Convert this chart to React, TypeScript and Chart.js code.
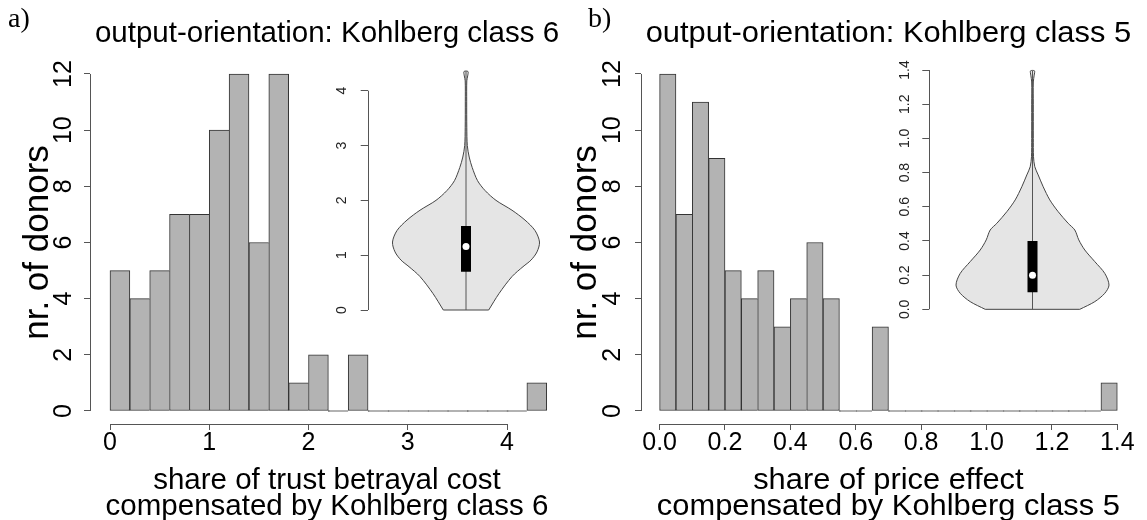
import React, { useEffect, useRef } from "react";
import { Chart, registerables } from "chart.js";

Chart.register(...registerables);

// ---------- data: panel a ----------
const binCentersA = [0.1, 0.3, 0.5, 0.7, 0.9, 1.1, 1.3, 1.5, 1.7, 1.9, 2.1, 2.3, 2.5, 2.7, 2.9, 3.1, 3.3, 3.5, 3.7, 3.9, 4.1, 4.3];
const countsA = [5, 4, 5, 7, 7, 10, 12, 6, 12, 1, 2, 0, 2, 0, 0, 0, 0, 0, 0, 0, 0, 1];
const xTicksA = [0, 1, 2, 3, 4];

// ---------- data: panel b ----------
const binCentersB = [0.025, 0.075, 0.125, 0.175, 0.225, 0.275, 0.325, 0.375, 0.425, 0.475, 0.525, 0.575, 0.625, 0.675, 0.725, 0.775, 0.825, 0.875, 0.925, 0.975, 1.025, 1.075, 1.125, 1.175, 1.225, 1.275, 1.325, 1.375];
const countsB = [12, 7, 11, 9, 5, 4, 5, 3, 4, 6, 4, 0, 0, 3, 0, 0, 0, 0, 0, 0, 0, 0, 0, 0, 0, 0, 0, 1];
const xTicksB = [0, 0.2, 0.4, 0.6, 0.8, 1.0, 1.2, 1.4];

const yTicksHist = [0, 2, 4, 6, 8, 10, 12];

// ---------- violin a (outline: value, half width) ----------
const violinValuesA = [0, 0.3, 0.61, 0.79, 0.91, 1.06, 1.24, 1.45, 1.64, 1.82, 2.0, 2.18, 2.36, 2.6, 2.79, 3.0, 3.33, 3.8, 4.18, 4.27, 4.35];
const violinWidthsA = [22.7, 33, 46, 57, 65, 71, 73.5, 69, 59, 46, 30, 19, 11.5, 6.2, 3.2, 1.3, 0.8, 0.7, 0.8, 1.7, 2.0];
const violinBoxA = [0.7, 1.53];
const violinMedianA = [1.16];
const violinRangeA = [0, 4.35];
const violinTicksA = [0, 1, 2, 3, 4];

// ---------- violin b ----------
const violinValuesB = [0, 0.045, 0.094, 0.142, 0.21, 0.279, 0.347, 0.406, 0.464, 0.503, 0.571, 0.64, 0.717, 0.786, 0.834, 0.893, 1.0, 1.2, 1.33, 1.37, 1.395];
const violinWidthsB = [47.3, 62.3, 72.3, 76.5, 72.3, 62.3, 52.3, 46.3, 42.3, 35.7, 25.7, 17.3, 10.7, 5.7, 2.3, 1.0, 0.8, 0.8, 0.8, 1.7, 2.0];
const violinBoxB = [0.1, 0.4];
const violinMedianB = [0.2];
const violinRangeB = [0, 1.395];
const violinTicksB = [0, 0.2, 0.4, 0.6, 0.8, 1.0, 1.2, 1.4];

// ---------- styles ----------
const SANS = '"Liberation Sans", Arial, Helvetica, sans-serif';
const SERIF = '"Liberation Serif", "Times New Roman", serif';
const AXIS = "#555";

const rTextPlugin = {
  id: "rtext",
  afterDraw(chart: any, _args: any, opts: any) {
    const ctx = chart.ctx;
    const items = (opts && opts.items) || [];
    for (let k = 0; k < items.length; k++) {
      const it = items[k];
      ctx.save();
      ctx.font = `${it.size}px ${it.family || SANS}`;
      ctx.fillStyle = it.color || "#000";
      ctx.textAlign = it.align || "center";
      ctx.textBaseline = it.baseline || "alphabetic";
      ctx.translate(it.x, it.y);
      if (it.rotate) ctx.rotate(it.rotate);
      if (it.sx) ctx.scale(it.sx, 1);
      ctx.fillText(it.text, 0, 0);
      ctx.restore();
    }
  },
};

const rAxisPlugin = {
  id: "raxis",
  afterDraw(chart: any, _args: any, opts: any) {
    const { ctx, chartArea } = chart;
    ctx.save();
    ctx.strokeStyle = opts.color || AXIS;
    ctx.lineWidth = 1;
    if (opts.x) {
      const s = chart.scales.x;
      const y = Math.round(chartArea.bottom) + 0.5;
      ctx.beginPath();
      ctx.moveTo(s.getPixelForValue(opts.x[0]), y);
      ctx.lineTo(s.getPixelForValue(opts.x[1]), y);
      ctx.stroke();
    }
    if (opts.y) {
      const s = chart.scales.y;
      const x = Math.round(chartArea.left) + 0.5;
      ctx.beginPath();
      ctx.moveTo(x, s.getPixelForValue(opts.y[0]));
      ctx.lineTo(x, s.getPixelForValue(opts.y[1]));
      ctx.stroke();
    }
    ctx.restore();
  },
};

function tickGrid(len: number) {
  return { display: true, drawOnChartArea: false, drawTicks: true, tickLength: len, color: AXIS, lineWidth: 1, offset: false };
}

function makeHist(p: any) {
  const counts: number[] = p.counts;
  return {
    type: "bar",
    data: {
      datasets: [
        {
          data: p.centers.map((c: number, i: number) => ({ x: c, y: counts[i] })),
          backgroundColor: "#b3b3b3",
          borderColor: "#333",
          borderWidth: (c: any) => {
            const i = c.dataIndex;
            const n = counts[i + 1];
            return { top: 1, left: 1, bottom: 1, right: n === undefined || n < counts[i] ? 1 : 0 };
          },
          borderSkipped: false,
          barPercentage: 1,
          categoryPercentage: 1,
          minBarLength: 1,
        },
      ],
    },
    options: {
      responsive: false,
      maintainAspectRatio: false,
      animation: false,
      events: [],
      layout: { padding: { top: 60.5, right: p.padRight, bottom: 0, left: 0 } },
      scales: {
        x: {
          type: "linear",
          min: p.xMin,
          max: p.xMax,
          offset: false,
          afterBuildTicks: (s: any) => {
            s.ticks = p.xTicks.map((v: number) => ({ value: v }));
          },
          afterFit: (s: any) => {
            s.height = 96;
          },
          grid: tickGrid(6),
          border: { display: false },
          ticks: {
            font: { family: SANS, size: 25, lineHeight: 1 },
            color: "#000",
            padding: 0.5,
            minRotation: 0,
            maxRotation: 0,
            autoSkip: false,
            callback: (v: any) => p.fmt(v),
          },
        },
        y: {
          type: "linear",
          min: -0.463,
          max: 12.48,
          afterBuildTicks: (s: any) => {
            s.ticks = yTicksHist.map((v) => ({ value: v }));
          },
          afterFit: (s: any) => {
            s.width = p.yLeft;
          },
          grid: tickGrid(6),
          border: { display: false },
          ticks: {
            font: { family: SANS, size: 25, lineHeight: 1 },
            color: "#000",
            padding: p.yTickPad,
            minRotation: 90,
            maxRotation: 90,
            crossAlign: "center",
            autoSkip: false,
            callback: (v: any) => String(v),
          },
        },
      },
      plugins: {
        legend: { display: false },
        tooltip: { enabled: false },
        rtext: { items: p.texts },
        raxis: { x: [p.xTicks[0], p.xTicks[p.xTicks.length - 1]], y: [yTicksHist[0], yTicksHist[yTicksHist.length - 1]], color: AXIS },
      },
    },
    plugins: [rTextPlugin, rAxisPlugin],
  };
}

function makeViolin(p: any) {
  const vals: number[] = p.vals;
  const w: number[] = p.widths;
  const left = vals.map((v, i) => ({ x: -w[i], y: v }));
  const right = vals.map((v, i) => ({ x: w[i], y: v })).reverse();
  // open outline: starts at the bottom-left corner and ends at the bottom-right corner;
  // the fill closes it with a straight bottom edge
  const outline = [...left, ...right];
  const bottomEdge = [{ x: -w[0], y: vals[0] }, { x: w[0], y: vals[0] }];
  return {
    type: "scatter",
    data: {
      datasets: [
        {
          data: [{ x: 0, y: p.median[0] }],
          pointRadius: 3.5,
          pointBackgroundColor: "#fff",
          pointBorderColor: "#fff",
          pointBorderWidth: 0,
          showLine: false,
          order: 1,
        },
        {
          data: [{ x: 0, y: p.box[0] }, { x: 0, y: p.box[1] }],
          showLine: true,
          borderColor: "#000",
          borderWidth: 10,
          borderCapStyle: "butt",
          pointRadius: 0,
          order: 2,
        },
        {
          data: [{ x: 0, y: p.range[0] }, { x: 0, y: p.range[1] }],
          showLine: true,
          borderColor: "#555",
          borderWidth: 1,
          pointRadius: 0,
          order: 3,
        },
        {
          data: bottomEdge,
          showLine: true,
          borderColor: "#444",
          borderWidth: 1,
          pointRadius: 0,
          order: 4,
        },
        {
          data: outline,
          showLine: true,
          fill: "shape",
          backgroundColor: "#e5e5e5",
          borderColor: "#444",
          borderWidth: 1,
          pointRadius: 0,
          tension: 0.3,
          order: 5,
        },
      ],
    },
    options: {
      responsive: false,
      maintainAspectRatio: false,
      animation: false,
      events: [],
      layout: { padding: { top: p.padTop, right: p.padRight, bottom: p.padBottom, left: 0 } },
      scales: {
        x: { type: "linear", display: false, min: -p.xHalf, max: p.xHalf },
        y: {
          type: "linear",
          min: p.yMin,
          max: p.yMax,
          afterBuildTicks: (s: any) => {
            s.ticks = p.ticks.map((v: number) => ({ value: v }));
          },
          afterFit: (s: any) => {
            s.width = p.yLeft;
          },
          grid: tickGrid(7),
          border: { display: false },
          ticks: {
            font: { family: SANS, size: 14, lineHeight: 1 },
            color: "#222",
            padding: p.tickPad,
            minRotation: 90,
            maxRotation: 90,
            crossAlign: "center",
            autoSkip: false,
            callback: (v: any) => p.fmt(v),
          },
        },
      },
      plugins: {
        legend: { display: false },
        tooltip: { enabled: false },
        raxis: { y: [p.ticks[0], p.ticks[p.ticks.length - 1]], color: AXIS },
      },
    },
    plugins: [rAxisPlugin],
  };
}

function ChartBox({ make, left, top, width, height }: any) {
  const ref = useRef<HTMLCanvasElement>(null);
  useEffect(() => {
    const chart = new Chart(ref.current as HTMLCanvasElement, make() as any);
    return () => chart.destroy();
  }, []);
  return (
    <canvas
      ref={ref}
      width={width}
      height={height}
      style={{ position: "absolute", left, top, width, height }}
    />
  );
}

const SX_B = 1.046;
const B_LEFT = 560;

export default function App() {
  const histA = () =>
    makeHist({
      centers: binCentersA,
      counts: countsA,
      xMin: -0.2015,
      xMax: 4.574,
      xTicks: xTicksA,
      fmt: (v: number) => String(v),
      yLeft: 90,
      padRight: 9,
      yTickPad: 6,
      texts: [
        { text: "a)", x: 8, y: 27, size: 28, family: SERIF, align: "left" },
        { text: "output-orientation: Kohlberg class 6", x: 327, y: 42, size: 29.5 },
        { text: "share of trust betrayal cost", x: 327, y: 489, size: 29.5 },
        { text: "compensated by Kohlberg class 6", x: 327, y: 515, size: 29.5 },
        { text: "nr. of donors", x: 48, y: 242.5, size: 35, rotate: -Math.PI / 2 },
      ],
    });
  const histB = () =>
    makeHist({
      centers: binCentersB,
      counts: countsB,
      xMin: -0.0569,
      xMax: 1.4563,
      xTicks: xTicksB,
      fmt: (v: number) => v.toFixed(1),
      yLeft: 641 - B_LEFT,
      padRight: 11.3,
      yTickPad: 8,
      texts: [
        { text: "b)", x: 588 - B_LEFT, y: 27, size: 28, family: SERIF, align: "left" },
        { text: "output-orientation: Kohlberg class 5", x: 888.4 - B_LEFT, y: 42, size: 29.5, sx: SX_B },
        { text: "share of price effect", x: 888.4 - B_LEFT, y: 489, size: 29.5, sx: SX_B },
        { text: "compensated by Kohlberg class 5", x: 888.4 - B_LEFT, y: 515, size: 29.5, sx: SX_B },
        { text: "nr. of donors", x: 596 - B_LEFT, y: 242.5, size: 35, rotate: -Math.PI / 2 },
      ],
    });
  const vioA = () =>
    makeViolin({
      vals: violinValuesA,
      widths: violinWidthsA,
      box: violinBoxA,
      median: violinMedianA,
      range: violinRangeA,
      ticks: violinTicksA,
      fmt: (v: number) => String(v),
      yMin: -0.175,
      yMax: 4.569,
      xHalf: 98.3,
      yLeft: 47.7,
      padTop: 29.5,
      padRight: 5.7,
      padBottom: 40.4,
      tickPad: 15,
    });
  const vioB = () =>
    makeViolin({
      vals: violinValuesB,
      widths: violinWidthsB,
      box: violinBoxB,
      median: violinMedianB,
      range: violinRangeB,
      ticks: violinTicksB,
      fmt: (v: number) => v.toFixed(1),
      yMin: -0.056,
      yMax: 1.4515,
      xHalf: 103.2,
      yLeft: 59.3,
      padTop: 31.2,
      padRight: 11.3,
      padBottom: 41.1,
      tickPad: 7.6,
    });
  return (
    <div style={{ position: "absolute", left: 0, top: 0, width: 1147, height: 520, background: "#fff", overflow: "hidden" }}>
      <ChartBox make={histA} left={0} top={0} width={573} height={520} />
      <ChartBox make={histB} left={B_LEFT} top={0} width={1147 - B_LEFT} height={520} />
      <ChartBox make={vioA} left={320} top={30} width={250} height={330} />
      <ChartBox make={vioB} left={870} top={30} width={277} height={330} />
    </div>
  );
}
